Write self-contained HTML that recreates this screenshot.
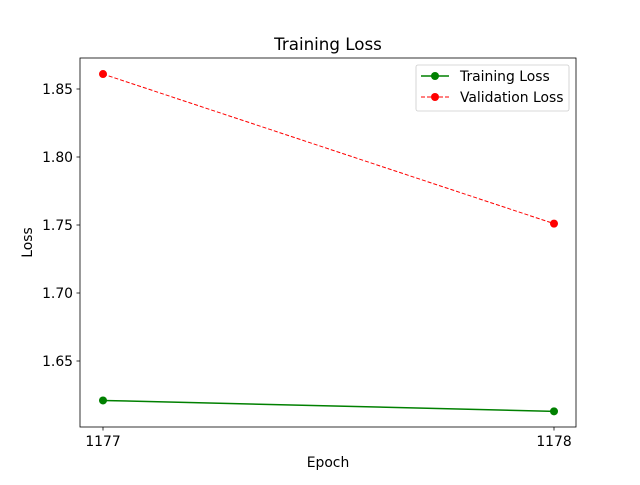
<!DOCTYPE html>
<html><head><meta charset="utf-8"><style>
body{margin:0;background:#fff}
svg text{font-family:"DejaVu Sans","Liberation Sans",sans-serif;fill:#000}
</style></head><body>
<svg width="640" height="480">
<g id="plot"></g>
</svg>
<script>
const epochs=[1177,1178];
const trainLoss=[1.621,1.613];
const valLoss=[1.861,1.751];
const yTicks=[1.65,1.70,1.75,1.80,1.85];
const yTickLabels=["1.65","1.70","1.75","1.80","1.85"];
const xTicks=[1177,1178];

const L=80,R=576,T=58,B=427;
const x=v=>103+(v-1177)*(554-103);
const y=v=>89+(1.85-v)*1360;
const g=document.getElementById('plot');
const NS='http://www.w3.org/2000/svg';
function mk(tag,attrs,parent){const e=document.createElementNS(NS,tag);for(const k in attrs)e.setAttribute(k,attrs[k]);(parent||g).appendChild(e);return e;}

const bg=mk('rect',{x:L,y:T,width:R-L,height:B-T,fill:'#fff'});



yTicks.forEach((v,i)=>{
  const t=mk('line',{x1:L-3.5,x2:L,y1:y(v),y2:y(v),stroke:'#000','stroke-width':0.8});
  
  
  const tx=mk('text',{x:L-7,y:y(v)+5,'text-anchor':'end','font-size':13.9});
  tx.textContent=yTickLabels[i];
  
  
});
xTicks.forEach(v=>{
  const t=mk('line',{x1:x(v),x2:x(v),y1:B,y2:B+3.5,stroke:'#000','stroke-width':0.8});
  
  
  const tx=mk('text',{x:x(v),y:B+19,'text-anchor':'middle','font-size':13.9});
  tx.textContent=String(v);
  
  
});

function series(vals,color,dash,name){
  const pts=epochs.map((e,i)=>x(e)+','+y(vals[i])).join(' ');
  const pl=mk('polyline',{points:pts,fill:'none',stroke:color,'stroke-width':dash?1:1.5,'stroke-dasharray':dash||'none'});
  
  
  epochs.forEach((e,i)=>{
    const c=mk('circle',{cx:x(e),cy:y(vals[i]),r:4,fill:color});
    
    
  });
}
series(trainLoss,'green',null,'training-loss');
series(valLoss,'red','4,2','validation-loss');

const frame=mk('rect',{x:L,y:T,width:R-L,height:B-T,fill:'none',stroke:'#000','stroke-width':0.8});



const title=mk('text',{x:(L+R)/2,y:50,'text-anchor':'middle','font-size':16.7});
title.textContent='Training Loss';


const xl=mk('text',{x:(L+R)/2,y:467,'text-anchor':'middle','font-size':13.9});
xl.textContent='Epoch';


const yl=mk('text',{x:32,y:(T+B)/2,'text-anchor':'middle','font-size':13.9,transform:'rotate(-90 32 '+((T+B)/2)+')'});
yl.textContent='Loss';



const lg=mk('g',{});


mk('rect',{x:416,y:65,width:153,height:46,rx:2,fill:'#fff',stroke:'#ccc','stroke-width':0.8},lg);
mk('line',{x1:421,x2:449,y1:76,y2:76,stroke:'green','stroke-width':1.5},lg);
mk('circle',{cx:435,cy:76,r:4,fill:'green'},lg);
const t1=mk('text',{x:460,y:81,'font-size':13.9},lg);t1.textContent='Training Loss';


mk('line',{x1:421,x2:449,y1:97,y2:97,stroke:'red','stroke-width':1,'stroke-dasharray':'4,2'},lg);
mk('circle',{cx:435,cy:97,r:4,fill:'red'},lg);
const t2=mk('text',{x:460,y:102,'font-size':13.9},lg);t2.textContent='Validation Loss';


</script>
</body></html>
